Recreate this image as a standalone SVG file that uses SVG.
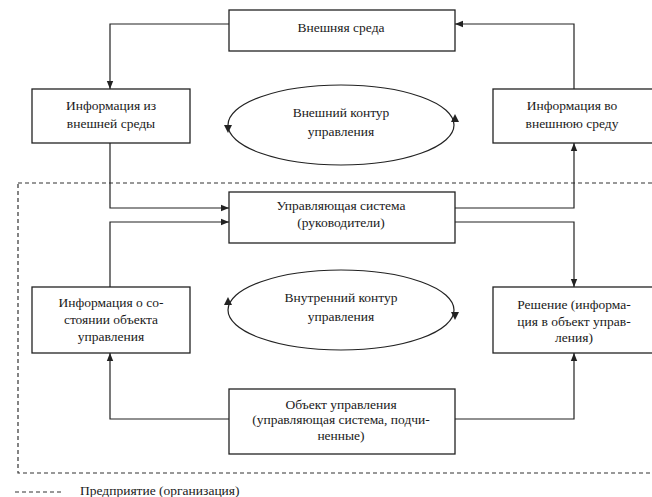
<svg xmlns="http://www.w3.org/2000/svg" width="652" height="497" viewBox="0 0 652 497">
<style>
.box{fill:#fff;stroke:#222;stroke-width:1.3}
.ln{fill:none;stroke:#222;stroke-width:1.2}
.ell{fill:none;stroke:#222;stroke-width:1.2}
.dash{fill:none;stroke:#333;stroke-width:1.2;stroke-dasharray:4 3}
text{font-family:"Liberation Serif","Times New Roman",serif;font-size:13.5px;fill:#1a1a1a;text-anchor:middle}
</style>
<defs>
<marker id="ah" viewBox="0 0 10 10" refX="10" refY="5" markerWidth="8" markerHeight="8" markerUnits="userSpaceOnUse" orient="auto">
<path d="M0,1 L10,5 L0,9 Z" fill="#222"/>
</marker>
</defs>
<rect class="dash" x="18" y="183" width="640" height="290"/>
<g id="connectors">
<path class="ln" d="M229,24 H110 V89" marker-end="url(#ah)"/>
<path class="ln" d="M574,89 V24 H455" marker-end="url(#ah)"/>
<path class="ln" d="M110,143 V208 H229" marker-end="url(#ah)"/>
<path class="ln" d="M110,287 V222 H229" marker-end="url(#ah)"/>
<path class="ln" d="M455,208 H574 V143" marker-end="url(#ah)"/>
<path class="ln" d="M455,222 H574 V287" marker-end="url(#ah)"/>
<path class="ln" d="M229,419 H110 V353" marker-end="url(#ah)"/>
<path class="ln" d="M455,419 H574 V353" marker-end="url(#ah)"/>
</g>
<g id="outer_loop">
<ellipse class="ell" cx="341" cy="125" rx="113" ry="40"/>
<path d="M228,133 l-4,-8 l8,0 Z" fill="#222"/>
<path d="M455,114 l-4,8 l8,0 Z" fill="#222"/>
<text x="341" y="117">Внешний контур</text>
<text x="341" y="136">управления</text>
</g>
<g id="inner_loop">
<ellipse class="ell" cx="341" cy="310" rx="113" ry="40"/>
<path d="M228,297 l-4,8 l8,0 Z" fill="#222"/>
<path d="M455,320 l-4,-8 l8,0 Z" fill="#222"/>
<text x="341" y="302">Внутренний контур</text>
<text x="341" y="321">управления</text>
</g>
<g id="external">
<rect class="box" x="229" y="10" width="226" height="41"/>
<text x="341" y="32">Внешняя среда</text>
</g>
<g id="info_in">
<rect class="box" x="32" y="89" width="158" height="54"/>
<text x="111" y="110">Информация из</text>
<text x="111" y="128">внешней среды</text>
</g>
<g id="info_out">
<rect class="box" x="493" y="89" width="165" height="54"/>
<text x="572" y="110">Информация во</text>
<text x="572" y="128">внешнюю среду</text>
</g>
<g id="control">
<rect class="box" x="229" y="192" width="226" height="51"/>
<text x="341" y="210">Управляющая система</text>
<text x="341" y="227">(руководители)</text>
</g>
<g id="info_state">
<rect class="box" x="32" y="287" width="158" height="66"/>
<text x="111" y="307">Информация о со-</text>
<text x="111" y="324">стоянии объекта</text>
<text x="111" y="341">управления</text>
</g>
<g id="decision">
<rect class="box" x="493" y="287" width="165" height="66"/>
<text x="574" y="309">Решение (информа-</text>
<text x="574" y="326">ция в объект управ-</text>
<text x="574" y="342">ления)</text>
</g>
<g id="object">
<rect class="box" x="229" y="389" width="226" height="65"/>
<text x="341" y="409">Объект управления</text>
<text x="341" y="424">(управляющая система, подчи-</text>
<text x="341" y="440">ненные)</text>
</g>
<g id="legend">
<line class="dash" x1="15" y1="492" x2="64" y2="492" stroke-dasharray="3 3"/>
<text x="80" y="495" style="text-anchor:start">Предприятие (организация)</text>
</g>
</svg>
